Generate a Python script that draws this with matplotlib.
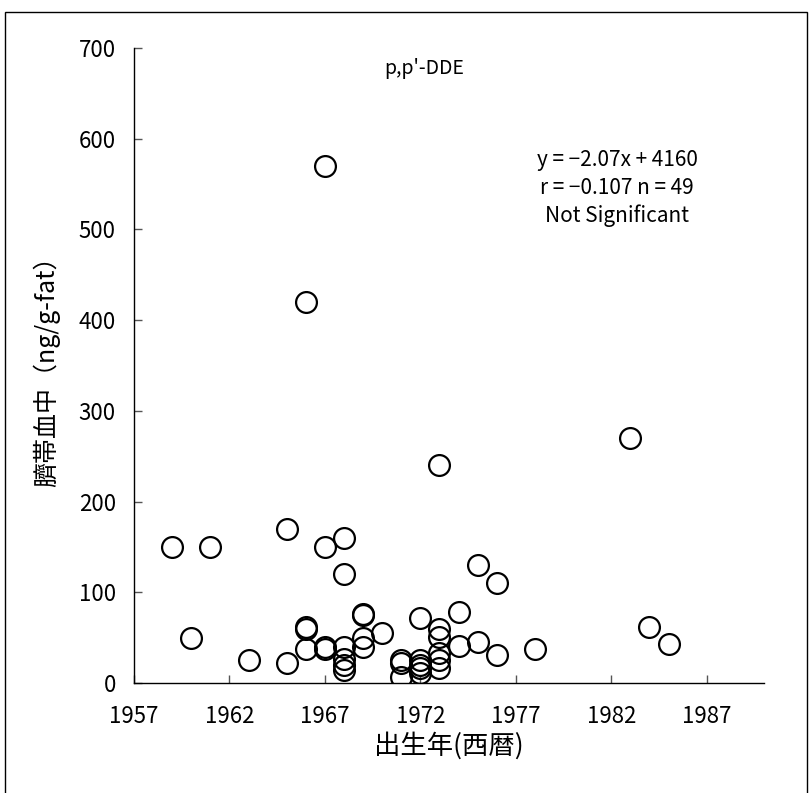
import matplotlib
matplotlib.use("Agg")
from matplotlib import pyplot as plt
from matplotlib.patches import Rectangle

plt.rcParams['font.family'] = ['Noto Sans CJK JP', 'DejaVu Sans']

birth_year = [1959, 1960, 1961, 1963, 1965, 1965,
              1966, 1966, 1966, 1966,
              1967, 1967, 1967, 1967,
              1968, 1968, 1968, 1968, 1968, 1968,
              1969, 1969, 1969, 1969, 1970,
              1971, 1971, 1971,
              1972, 1972, 1972, 1972, 1972,
              1973, 1973, 1973, 1973, 1973, 1973,
              1974, 1974, 1975, 1975, 1976, 1976, 1978,
              1983, 1984, 1985]
dde = [150, 50, 150, 25, 170, 22,
       420, 62, 60, 37,
       570, 150, 40, 38,
       160, 120, 40, 27, 20, 14,
       76, 75, 50, 40, 55,
       25, 22, 7,
       72, 25, 20, 17, 11,
       240, 60, 51, 33, 25, 16,
       78, 41, 130, 45, 110, 31, 37,
       270, 62, 43]

x_ticks = [1957, 1962, 1967, 1972, 1977, 1982, 1987]
y_ticks = [0, 100, 200, 300, 400, 500, 600, 700]

fig = plt.figure(figsize=(8.1, 7.93), dpi=100)
ax = fig.add_axes([0.1654, 0.1387, 0.7778, 0.8008])

ax.plot(birth_year, dde, linestyle='none', marker='o', markersize=15,
        markerfacecolor='none', markeredgecolor='black', markeredgewidth=1.6)

ax.set_xlim(1957, 1990)
ax.set_ylim(0, 700)
ax.set_xticks(x_ticks)
ax.set_yticks(y_ticks)
ax.spines['top'].set_visible(False)
ax.spines['right'].set_visible(False)
ax.tick_params(direction='in', length=6, width=1, color='#555555', labelsize=16)
ax.tick_params(axis='y', pad=13)
ax.tick_params(axis='x', pad=16)
for sp in ax.spines.values():
    sp.set_linewidth(1)

ax.set_xlabel('出生年(西暦)', fontsize=19, labelpad=3)
ax.set_ylabel('臍帯血中（ng/g-fat）', fontsize=18, labelpad=13)

ax.text(0.46, 0.968, "p,p'-DDE", transform=ax.transAxes, ha='center', va='center', fontsize=14)
ax.text(0.767, 0.824, 'y = \u22122.07x + 4160', transform=ax.transAxes, ha='center', va='center', fontsize=15)
ax.text(0.767, 0.780, 'r = \u22120.107 n = 49', transform=ax.transAxes, ha='center', va='center', fontsize=15)
ax.text(0.767, 0.736, 'Not Significant', transform=ax.transAxes, ha='center', va='center', fontsize=15)

fig.patches.append(Rectangle((5 / 810, -0.1), 802 / 810, 1.1 - 12 / 793,
                             transform=fig.transFigure, fill=False,
                             edgecolor='black', linewidth=1))

fig.savefig('out.png', dpi=100)
plt.close()
